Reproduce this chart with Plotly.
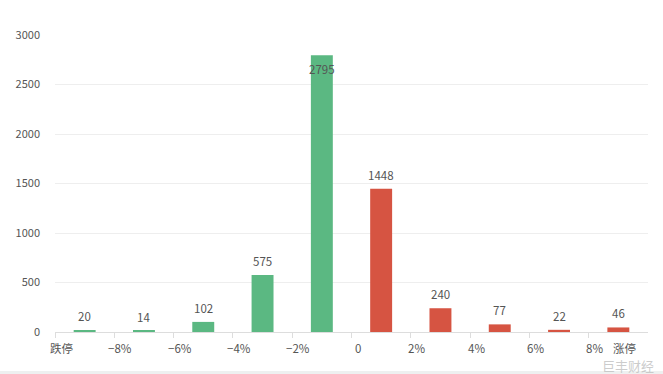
import plotly.graph_objects as go

categories = ["跌停~-8%", "-8%~-6%", "-6%~-4%", "-4%~-2%", "-2%~0", "0~2%", "2%~4%", "4%~6%", "6%~8%", "涨停"]
counts = [20, 14, 102, 575, 2795, 1448, 240, 77, 22, 46]
bar_colors = ["#5bb882"] * 5 + ["#d65442"] * 5
tick_labels = ["跌停", "−8%", "−6%", "−4%", "−2%", "0", "2%", "4%", "6%", "8%", "涨停"]
tick_positions = [0, 1, 2, 3, 4, 5, 6, 7, 8, 9, 9.5]
y_ticks = [0, 500, 1000, 1500, 2000, 2500, 3000]
y_max = 3000

font_family = "Noto Sans CJK SC, Noto Sans, sans-serif"
text_color = "#555555"

xs = [i + 0.5 for i in range(len(counts))]

fig = go.Figure()
fig.add_trace(go.Bar(
    x=xs, y=counts, width=0.37,
    marker=dict(color=bar_colors, line=dict(width=0)),
    hoverinfo="skip",
))

annotations = []
for x, v in zip(xs, counts):
    inside = v / y_max > 0.9
    annotations.append(dict(
        x=x, y=v, xref="x", yref="y", text=str(v), showarrow=False,
        xanchor="center", yanchor="middle",
        yshift=-14 if inside else 14,
        font=dict(family=font_family, size=11.5, color=text_color),
    ))
for pos, lab in zip(tick_positions, tick_labels):
    annotations.append(dict(
        x=pos, y=0, xref="x", yref="paper", text=lab, showarrow=False,
        xanchor="center", yanchor="middle",
        xshift=6, yshift=-16,
        font=dict(family=font_family, size=11.5, color=text_color),
    ))
annotations.append(dict(
    x=1.0, y=0, xref="paper", yref="paper", text="巨丰财经", showarrow=False,
    xanchor="right", yanchor="middle", xshift=8, yshift=-33,
    font=dict(family=font_family, size=13, color="rgba(195,195,195,0.85)"),
))

fig.update_layout(
    width=663, height=374,
    margin=dict(l=55, r=15, t=35, b=42),
    paper_bgcolor="white", plot_bgcolor="white",
    showlegend=False,
    annotations=annotations,
    font=dict(family=font_family, size=11, color=text_color),
    xaxis=dict(
        range=[0, 10], tickmode="array", tickvals=list(range(10)),
        showticklabels=False, ticks="outside", ticklen=5, tickcolor="#dddddd",
        showgrid=False, zeroline=False, showline=True, linecolor="#dddddd",
        fixedrange=True,
    ),
    yaxis=dict(
        range=[0, y_max], tickmode="array", tickvals=y_ticks,
        showgrid=True, gridcolor="#eeeeee", zeroline=False, showline=False,
        ticks="", ticklabelstandoff=14,
        tickfont=dict(family=font_family, size=11, color=text_color),
        fixedrange=True,
    ),
    shapes=[dict(type="rect", xref="paper", yref="paper", x0=-0.1, x1=1.1,
                 y0=-0.131, y1=-0.16, fillcolor="#eef0f0", line=dict(width=0), layer="below")],
)

fig.write_html("out.html", config={"displayModeBar": False},
               post_script="document.body.style.margin='0';document.body.style.overflow='hidden';")
